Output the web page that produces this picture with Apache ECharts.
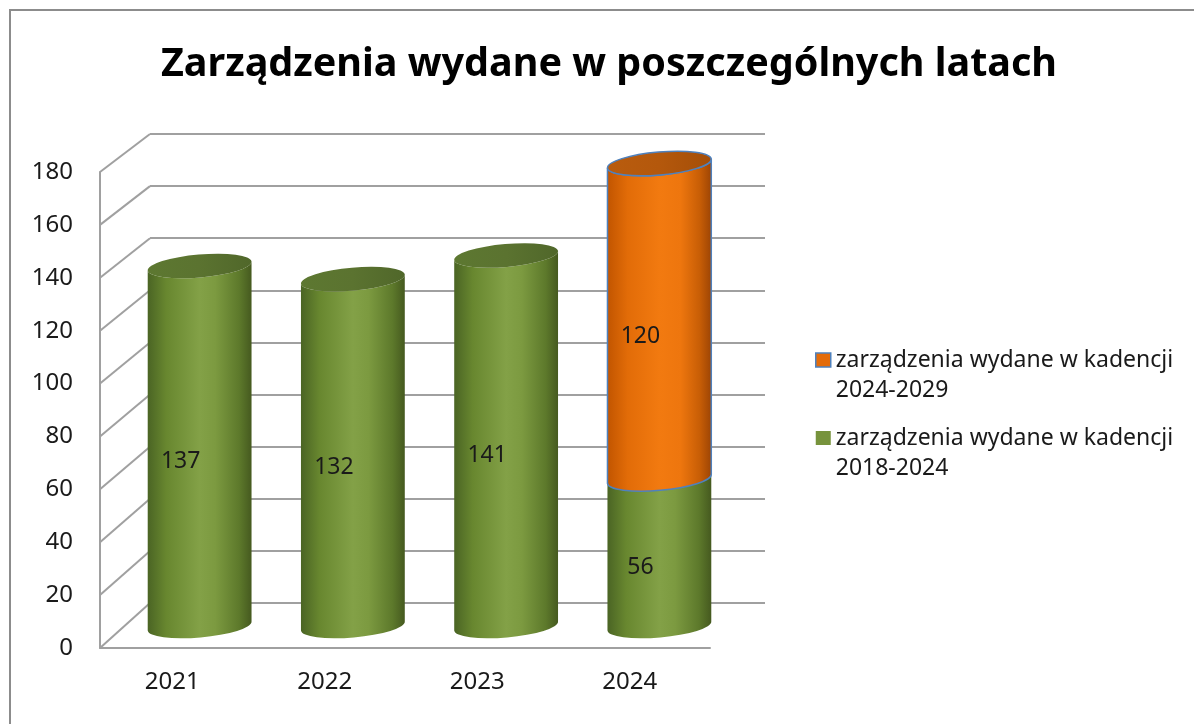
<!DOCTYPE html>
<html>
<head>
<meta charset="utf-8">
<script src="https://cdn.jsdelivr.net/npm/echarts@6/dist/echarts.min.js"></script>
<style>
  html, body { margin: 0; padding: 0; background: #fff; }
  #chart { width: 1194px; height: 724px; }
</style>
</head>
<body>
<div id="chart"></div>
<script>
  // dane
  const years = ['2021', '2022', '2023', '2024'];
  const kadencja2018 = [137, 132, 141, 56];
  const kadencja2024 = [0, 0, 0, 120];
  const yTicks = [0, 20, 40, 60, 80, 100, 120, 140, 160, 180];
  const name2018 = 'zarządzenia wydane w kadencji 2018-2024';
  const name2024 = 'zarządzenia wydane w kadencji 2024-2029';

  const FONT = 'Noto Sans';
  const BACK_LEFT = 150, FRONT_LEFT = 100;
  const TILT = -5;

  let myChart = echarts.init(document.getElementById('chart'));

  function cylinder(colors, capColors, stroke) {
    return function (params, api) {
      const i = api.value(0), v = api.value(1), base = api.value(2) || 0;
      if (!v) return;
      const p0 = api.coord([i, base]);
      const p1 = api.coord([i, base + v]);
      const rx = api.size([1, 0])[0] * 0.34;
      const ry = 11.5;
      const cx = p0[0];
      const a = TILT * Math.PI / 180;
      const dx = rx * Math.cos(a), dy = -rx * Math.sin(a);
      const arc = (flag, x, y) => ' A' + rx + ' ' + ry + ' ' + TILT + ' 0 ' + flag + ' ' + x + ' ' + y;
      const body = 'M' + (cx - dx) + ' ' + (p1[1] + dy) +
        ' L' + (cx - dx) + ' ' + (p0[1] + dy) +
        arc(0, cx + dx, p0[1] - dy) +
        ' L' + (cx + dx) + ' ' + (p1[1] - dy) +
        arc(1, cx - dx, p1[1] + dy) + ' Z';
      const cap = 'M' + (cx - dx) + ' ' + (p1[1] + dy) +
        arc(0, cx + dx, p1[1] - dy) +
        arc(0, cx - dx, p1[1] + dy) + ' Z';
      const lineStyle = stroke ? { stroke: stroke, lineWidth: 1.5 } : {};
      return {
        type: 'group',
        children: [
          {
            type: 'path',
            shape: { pathData: body },
            style: Object.assign({
              fill: new echarts.graphic.LinearGradient(0, 0, 1, 0, colors)
            }, lineStyle)
          },
          {
            type: 'path',
            shape: { pathData: cap },
            style: Object.assign({
              fill: new echarts.graphic.LinearGradient(0, 0, 1, 0, capColors)
            }, lineStyle)
          },
          {
            type: 'text',
            style: {
              text: String(v),
              x: cx - 19,
              y: (p0[1] + p1[1]) / 2 + 15,
              align: 'center',
              verticalAlign: 'middle',
              fontFamily: FONT,
              fontSize: 23,
              fill: '#1a1a1a'
            }
          }
        ]
      };
    };
  }

  const greenBody = [
    { offset: 0, color: '#4a6424' },
    { offset: 0.18, color: '#68872f' },
    { offset: 0.5, color: '#83a147' },
    { offset: 0.65, color: '#7c9a40' },
    { offset: 0.88, color: '#5d792b' },
    { offset: 1, color: '#45591f' }
  ];
  const greenCap = [
    { offset: 0, color: '#5d7831' },
    { offset: 0.5, color: '#5b7330' },
    { offset: 1, color: '#50672a' }
  ];
  const orangeBody = [
    { offset: 0, color: '#c05400' },
    { offset: 0.2, color: '#e26c08' },
    { offset: 0.5, color: '#f27a10' },
    { offset: 0.7, color: '#ee760e' },
    { offset: 0.88, color: '#c85e06' },
    { offset: 1, color: '#9a4304' }
  ];
  const orangeCap = [
    { offset: 0, color: '#b95c0e' },
    { offset: 0.5, color: '#b4580c' },
    { offset: 1, color: '#a44e08' }
  ];

  let option = {
    backgroundColor: '#fff',
    animation: false,
    title: {
      text: 'Zarządzenia wydane w poszczególnych latach',
      left: 156,
      top: 40,
      textStyle: { fontFamily: FONT, fontWeight: 'bold', fontSize: 39.5, color: '#000' }
    },
    graphic: [{
      type: 'rect',
      shape: { x: 10, y: 10, width: 1200, height: 730 },
      style: { fill: 'none', stroke: '#8c8c8c', lineWidth: 2 },
      z: 100
    }],
    legend: {
      orient: 'vertical',
      left: 810,
      top: 310,
      itemWidth: 15,
      itemHeight: 14,
      itemGap: -12,
      icon: 'rect',
      data: [
        { name: name2024, itemStyle: { color: '#e46c0a', borderColor: '#4f81bd', borderWidth: 1.5 } },
        { name: name2018, itemStyle: { color: '#77933c', borderWidth: 0 } }
      ],
      // pusta pierwsza linia, żeby ikona stała przy pierwszym wierszu tekstu
      formatter: name => '\n' + name.replace(' 20', '\n20'),
      textStyle: {
        fontFamily: FONT, fontSize: 23, color: '#1a1a1a', lineHeight: 30
      }
    },
    grid: [
      // tylna ściana
      { left: BACK_LEFT, right: 429, top: 134, bottom: 121 },
      // przednia oś
      { left: FRONT_LEFT, right: 484, top: 172, bottom: 76 },
      // walce
      { left: 123, right: 458, top: 153, bottom: 98 }
    ],
    xAxis: [
      { gridIndex: 0, type: 'value', min: 0, max: 1, show: false },
      {
        gridIndex: 1, type: 'category', data: years,
        axisLine: { lineStyle: { color: '#a0a0a0', width: 2 } },
        axisTick: { show: false },
        axisLabel: {
          fontFamily: FONT, fontSize: 24, color: '#1a1a1a', margin: 22,
          padding: [0, 8, 0, 0]
        }
      },
      { gridIndex: 2, type: 'category', data: years, show: false }
    ],
    yAxis: [
      {
        gridIndex: 0, type: 'value', min: 0, max: 180, interval: 20,
        axisLine: { show: false }, axisTick: { show: false }, axisLabel: { show: false },
        splitLine: { lineStyle: { color: '#a0a0a0', width: 2 } }
      },
      {
        gridIndex: 1, type: 'value', min: 0, max: 180, interval: 20,
        axisLine: { show: true, lineStyle: { color: '#a0a0a0', width: 2 } },
        axisTick: { show: false },
        splitLine: { show: false },
        axisLabel: { fontFamily: FONT, fontSize: 24, color: '#1a1a1a', margin: 27 }
      },
      { gridIndex: 2, type: 'value', min: 0, max: 180, show: false }
    ],
    series: [
      {
        // linie ukośne od przedniej osi do tylnej ściany
        type: 'custom',
        xAxisIndex: 0, yAxisIndex: 0,
        silent: true,
        data: yTicks.map(v => [0, v]),
        renderItem: function (params, api) {
          const back = api.coord([0, api.value(1)]);
          let fy;
          try {
            fy = myChart.convertToPixel({ yAxisIndex: 1 }, api.value(1));
          } catch (e) {
            return;
          }
          return {
            type: 'line',
            shape: { x1: back[0] - (BACK_LEFT - FRONT_LEFT), y1: fy, x2: back[0], y2: back[1] },
            style: { stroke: '#a0a0a0', lineWidth: 2 }
          };
        }
      },
      {
        name: name2018,
        type: 'custom',
        xAxisIndex: 2, yAxisIndex: 2,
        itemStyle: { color: '#77933c' },
        data: years.map((y, i) => [i, kadencja2018[i], 0]),
        encode: { x: 0, y: 1 },
        renderItem: cylinder(greenBody, greenCap, null),
        z: 3
      },
      {
        name: name2024,
        type: 'custom',
        xAxisIndex: 2, yAxisIndex: 2,
        itemStyle: { color: '#e46c0a', borderColor: '#4f81bd' },
        data: years.map((y, i) => [i, kadencja2024[i], kadencja2018[i]]),
        encode: { x: 0, y: 1 },
        renderItem: cylinder(orangeBody, orangeCap, '#4f81bd'),
        z: 4
      }
    ]
  };
  myChart.setOption(option);
</script>
</body>
</html>
